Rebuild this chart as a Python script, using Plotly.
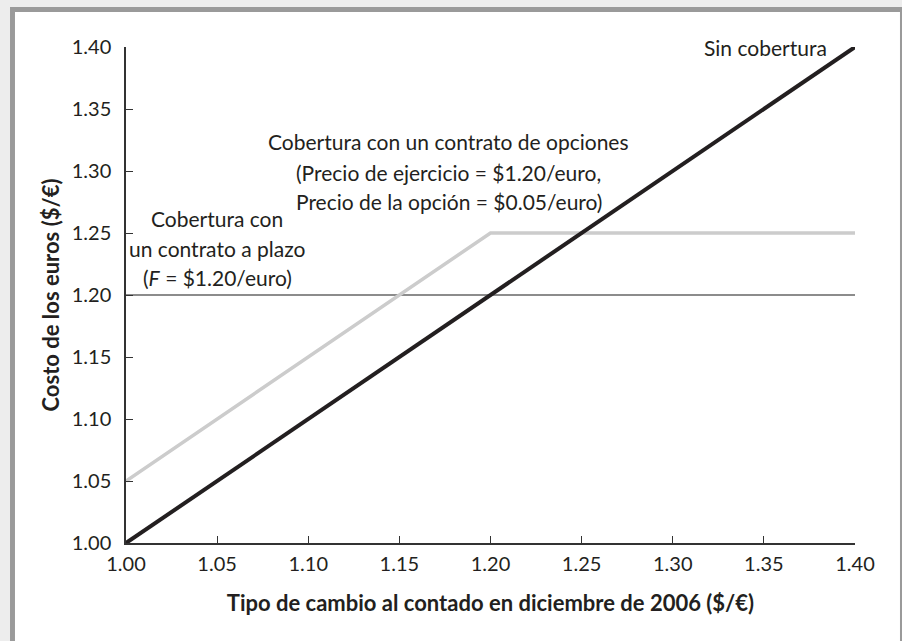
import plotly.graph_objects as go

# Datos
spot = [1.00, 1.20, 1.40]
sin_cobertura = [1.00, 1.20, 1.40]
cobertura_opciones = [1.05, 1.25, 1.25]
cobertura_plazo = [1.20, 1.20, 1.20]
ticks = [1.00, 1.05, 1.10, 1.15, 1.20, 1.25, 1.30, 1.35, 1.40]
tick_text = [f"{t:.2f}" for t in ticks]

FONT = "Lato, 'Open Sans', sans-serif"
TXT = "#231f20"

fig = go.Figure()

fig.add_trace(go.Scatter(x=spot, y=cobertura_plazo, mode="lines",
                         line=dict(color="#8c8c8c", width=2), name="plazo"))
fig.add_trace(go.Scatter(x=spot, y=cobertura_opciones, mode="lines",
                         line=dict(color="#cccccc", width=3.5), name="opciones"))
fig.add_trace(go.Scatter(x=spot, y=sin_cobertura, mode="lines",
                         line=dict(color="#231f20", width=4), name="sin"))

# marco gris con panel blanco
fig.add_shape(type="rect", xref="paper", yref="paper", layer="below",
              x0=-0.1591, x1=1.07, y0=-0.25, y1=1.0806,
              fillcolor="#9a9a9a", line_width=0)
fig.add_shape(type="rect", xref="paper", yref="paper", layer="below",
              x0=-0.1523, x1=1.0617, y0=-0.25, y1=1.0706,
              fillcolor="white", line_width=0)

ann_font = dict(family=FONT, size=21, color=TXT)
notes = [
    ("Sin cobertura", 1.386, 1.400, "right"),
    ("Cobertura con un contrato de opciones", 1.177, 1.3234, "center"),
    ("(Precio de ejercicio = $1.20/euro,", 1.177, 1.2984, "center"),
    ("Precio de la opción = $0.05/euro)", 1.177, 1.2758, "center"),
    ("Cobertura con", 1.050, 1.2621, "center"),
    ("un contrato a plazo", 1.050, 1.2379, "center"),
    ("(<i>F</i> = $1.20/euro)", 1.050, 1.2145, "center"),
]
for text, x, y, anchor in notes:
    fig.add_annotation(x=x, y=y, text=text, showarrow=False, xanchor=anchor,
                       yanchor="middle", font=ann_font)

axis_common = dict(
    range=[1.0, 1.4], tickvals=ticks, ticktext=tick_text,
    showgrid=False, zeroline=False, showline=True, linecolor="#333333",
    linewidth=1.5, ticks="inside", ticklen=7, tickcolor="#333333",
    tickwidth=1.2, tickfont=dict(family=FONT, size=20, color=TXT),
)

fig.update_layout(
    width=902, height=641,
    paper_bgcolor="#ededed", plot_bgcolor="white",
    margin=dict(l=126, r=47, t=47, b=98),
    showlegend=False,
    font=dict(family=FONT, color=TXT),
    xaxis=dict(**axis_common, ticklabelstandoff=2,
               title=dict(text="<b>Tipo de cambio al contado en diciembre de 2006 ($/€)</b>",
                          font=dict(family=FONT, size=22, color=TXT), standoff=22)),
    yaxis=dict(**axis_common, ticklabelstandoff=9,
               title=dict(text="<b>Costo de los euros ($/€)</b>",
                          font=dict(family=FONT, size=22, color=TXT), standoff=6)),
)

fig.write_html("out.html", config={"displayModeBar": False},
               post_script="document.body.style.margin='0';document.body.style.background='#ededed';")
